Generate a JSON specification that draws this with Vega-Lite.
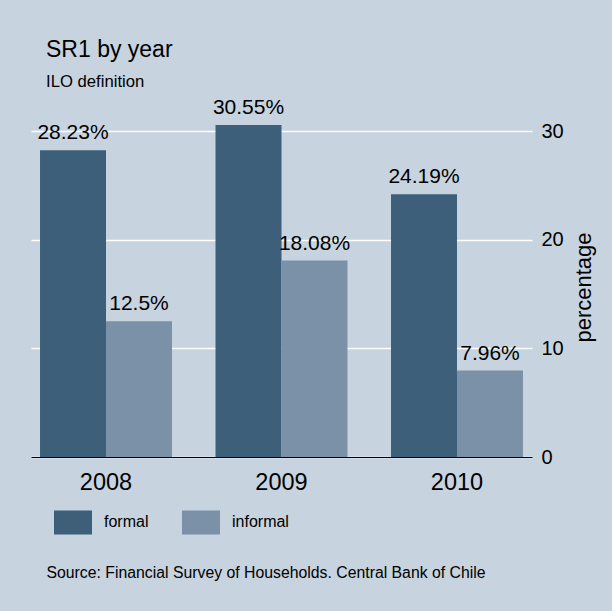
{
  "$schema": "https://vega.github.io/schema/vega-lite/v6.json",
  "width": 501,
  "height": 326,
  "autosize": {"type": "none"},
  "padding": {"left": 31, "top": 131, "right": 80, "bottom": 154},
  "background": "#c7d3df",
  "title": {
    "text": "SR1 by year",
    "subtitle": "ILO definition",
    "anchor": "start",
    "frame": "group",
    "dx": 15,
    "offset": 6,
    "font": "Liberation Sans",
    "subtitleFont": "Liberation Sans",
    "fontSize": 23,
    "fontWeight": "normal",
    "subtitleFontSize": 16.7,
    "color": "black",
    "subtitleColor": "black",
    "subtitlePadding": 12
  },
  "data": {
    "values": [
      {"year": "2008", "type": "formal", "value": 28.23, "label": "28.23%"},
      {"year": "2008", "type": "informal", "value": 12.5, "label": "12.5%"},
      {"year": "2009", "type": "formal", "value": 30.55, "label": "30.55%"},
      {"year": "2009", "type": "informal", "value": 18.08, "label": "18.08%"},
      {"year": "2010", "type": "formal", "value": 24.19, "label": "24.19%"},
      {"year": "2010", "type": "informal", "value": 7.96, "label": "7.96%"}
    ]
  },
  "encoding": {
    "x": {
      "field": "year",
      "type": "nominal",
      "scale": {"paddingInner": 0.248, "paddingOuter": 0.0514},
      "axis": {
        "title": "Source: Financial Survey of Households. Central Bank of Chile",
        "titleFont": "Liberation Sans",
        "titleFontSize": 15.8,
        "titleFontWeight": "normal",
        "titleColor": "black",
        "titleAnchor": "start",
        "titleAlign": "left",
        "titleBaseline": "alphabetic",
        "titleX": 15,
        "titleY": 120,
        "labelAngle": 0,
        "labelFont": "Liberation Sans",
        "labelFontSize": 23.5,
        "labelColor": "black",
        "labelPadding": 13,
        "ticks": false,
        "domainColor": "black",
        "domainWidth": 1.2
      }
    },
    "xOffset": {"field": "type", "type": "nominal", "scale": {"paddingInner": 0, "paddingOuter": 0}},
    "y": {
      "field": "value",
      "type": "quantitative",
      "scale": {"domain": [0, 30], "nice": false},
      "axis": {
        "orient": "right",
        "values": [0, 10, 20, 30],
        "title": "percentage",
        "titleFont": "Liberation Sans",
        "titleFontSize": 22,
        "titleFontWeight": "normal",
        "titleColor": "black",
        "titleAngle": 270,
        "titlePadding": 32,
        "titleY": 156,
        "labelFont": "Liberation Sans",
        "labelFontSize": 20,
        "labelColor": "black",
        "labelPadding": 9,
        "ticks": false,
        "domain": false,
        "grid": true,
        "gridColor": "white",
        "gridWidth": 1.3
      }
    }
  },
  "layer": [
    {
      "mark": {"type": "bar"},
      "encoding": {
        "color": {
          "field": "type",
          "type": "nominal",
          "scale": {"domain": ["formal", "informal"], "range": ["#3d5f79", "#7b91a7"]},
          "legend": {
            "orient": "none",
            "legendX": 23,
            "legendY": 372,
            "direction": "horizontal",
            "title": null,
            "symbolType": "M-1,-0.632H1V0.632H-1Z",
            "symbolSize": 1444,
            "symbolStrokeWidth": 0,
            "symbolOpacity": 1,
            "labelFont": "Liberation Sans",
            "labelFontSize": 16,
            "labelColor": "black",
            "labelOffset": 12,
            "columnPadding": 33
          }
        }
      }
    },
    {
      "mark": {"type": "text", "baseline": "alphabetic", "align": "center", "dy": -11, "font": "Liberation Sans", "fontSize": 21, "color": "black"},
      "encoding": {"text": {"field": "label"}}
    }
  ],
  "config": {"view": {"stroke": null}}
}
